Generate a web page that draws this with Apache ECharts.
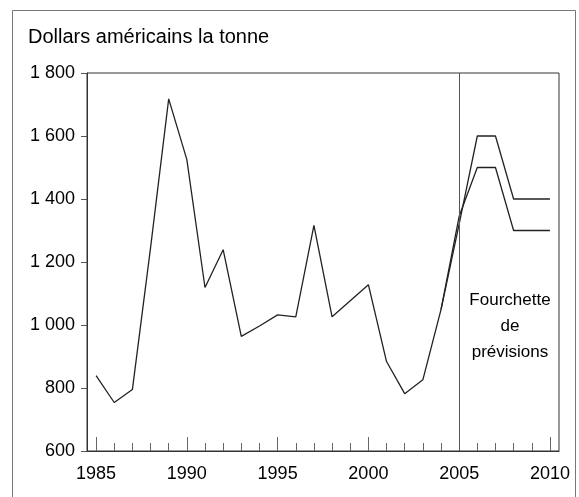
<!DOCTYPE html>
<html>
<head>
<meta charset="utf-8">
<script src="https://cdn.jsdelivr.net/npm/echarts@6/dist/echarts.min.js"></script>
<style>
html,body{margin:0;padding:0;background:#fff;}
#chart{width:579px;height:497px;}
</style>
</head>
<body>
<div id="chart"></div>
<script>
var years = [1985,1986,1987,1988,1989,1990,1991,1992,1993,1994,1995,1996,1997,1998,1999,2000,2001,2002,2003,2004];
var prices = [839,754,795,1245,1718,1525,1119,1239,964,997,1032,1026,1316,1026,1077,1128,884,782,826,1049];
var forecastYears = [2004,2005,2006,2007,2008,2009,2010];
var forecastHigh = [1049,1320,1600,1600,1400,1400,1400];
var forecastLow = [1049,1345,1500,1500,1300,1300,1300];
var majorTicks = [1985,1990,1995,2000,2005,2010];
var allTicks = [1985,1986,1987,1988,1989,1990,1991,1992,1993,1994,1995,1996,1997,1998,1999,2000,2001,2002,2003,2004,2005,2006,2007,2008,2009,2010];
var forecastStart = 2005;
var titleText = 'Dollars américains la tonne';
var noteText = 'Fourchette\nde\nprévisions';

function pairs(xs, ys){ return xs.map(function(x,i){ return [x, ys[i]]; }); }

var font = 'Liberation Sans, Arial, sans-serif';
var chart = echarts.init(document.getElementById('chart'), null, {renderer:'canvas'});
chart.setOption({
  animation:false,
  backgroundColor:'#fff',
  grid:{left:87, top:73, width:472, height:378, show:true, borderColor:'#333', borderWidth:1, containLabel:false},
  xAxis:[{
    type:'value', min:1984.5, max:2010.5,
    axisLine:{show:true, lineStyle:{color:'#333', width:1}},
    axisTick:{show:true, inside:true, length:14, customValues:majorTicks, lineStyle:{color:'#666', width:1}},
    axisLabel:{show:true, customValues:majorTicks, margin:14, color:'#000', fontSize:18, fontFamily:font, formatter:function(v){return String(v);}},
    splitLine:{show:false}
  },{
    type:'value', min:1984.5, max:2010.5, position:'bottom',
    axisLine:{show:false},
    axisTick:{show:true, inside:true, length:8, customValues:allTicks, lineStyle:{color:'#666', width:1}},
    axisLabel:{show:false},
    splitLine:{show:false}
  }],
  yAxis:{
    type:'value', min:600, max:1800, interval:200,
    axisLine:{show:true, lineStyle:{color:'#333', width:1}},
    axisTick:{show:true, inside:false, length:6, lineStyle:{color:'#555'}},
    axisLabel:{margin:12, color:'#000', fontSize:18, fontFamily:font,
      formatter:function(v){ return String(v).replace(/\B(?=(\d{3})+(?!\d))/g,' '); }},
    splitLine:{show:false}
  },
  series:[{
    type:'line', data:pairs(years, prices), showSymbol:false, symbol:'none',
    lineStyle:{color:'#222', width:1.3},
    markLine:{silent:true, symbol:'none', label:{show:false},
      lineStyle:{color:'#555', width:1, type:'solid'},
      data:[{xAxis:forecastStart}]}
  },{
    type:'line', data:pairs(forecastYears, forecastHigh), showSymbol:false, symbol:'none',
    lineStyle:{color:'#222', width:1.3}
  },{
    type:'line', data:pairs(forecastYears, forecastLow), showSymbol:false, symbol:'none',
    lineStyle:{color:'#222', width:1.3}
  }],
  graphic:[
    {type:'rect', shape:{x:12.5, y:10.5, width:563, height:500}, style:{fill:'none', stroke:'#777', lineWidth:1}, silent:true},
    {type:'text', x:28, y:37, style:{text:titleText, fontSize:20, fontFamily:font, fill:'#000', verticalAlign:'middle', align:'left'}},
    {type:'text', x:510, y:326, style:{text:noteText, fontSize:17, fontFamily:font, fill:'#000', align:'center', verticalAlign:'middle', lineHeight:26}}
  ]
});
</script>
</body>
</html>
